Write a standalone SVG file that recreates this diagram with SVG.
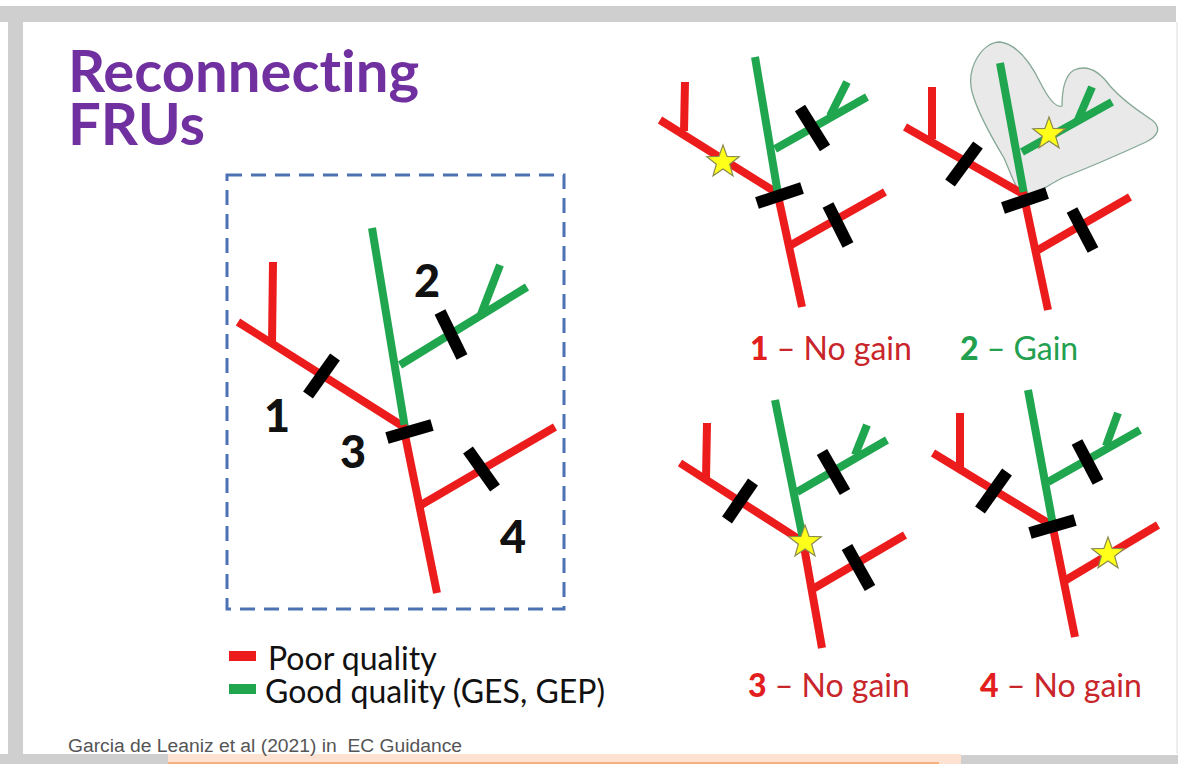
<svg xmlns="http://www.w3.org/2000/svg" width="1178" height="764" viewBox="0 0 1178 764">
<defs>
<style>
.r{stroke:#ec1c1c;stroke-width:8;fill:none;stroke-linecap:butt}
.g{stroke:#1fa64e;stroke-width:8;fill:none;stroke-linecap:butt}
.b{stroke:#000;stroke-width:12;fill:none}
.num{font-family:Lato,"Open Sans",sans-serif;font-weight:900;font-size:45px;fill:#111}
.cap{font-family:Lato,"Open Sans",sans-serif;font-size:32px}
.leg{font-family:Lato,"Open Sans",sans-serif;font-size:32px;fill:#111}
text{font-variant-ligatures:none}
</style>
<path id="star" d="M0,-17 L4.11,-5.66 L16.17,-5.25 L6.66,2.16 L9.99,13.75 L0,7 L-9.99,13.75 L-6.66,2.16 L-16.17,-5.25 L-4.11,-5.66 Z" fill="#ffff1a" stroke="#8a8a50" stroke-width="1.2"/>
</defs>
<rect width="1178" height="764" fill="#fff"/>
<g id="frame">
<rect x="0" y="6" width="1176" height="16" fill="#cfcfcf"/>
<rect x="8" y="6" width="15" height="748" fill="#cfcfcf"/>
<rect x="0" y="754" width="168" height="10" fill="#cfcfcf"/>
<rect x="168" y="754" width="793" height="10" fill="#fde2d2"/>
<rect x="168" y="762" width="771" height="2" fill="#f7b07d"/>
<rect x="961" y="755" width="217" height="9" fill="#cfcfcf"/>
<rect x="1176" y="22" width="2" height="732" fill="#eeeeee"/>
</g>
<g id="title" font-family="Lato,'Open Sans',sans-serif" font-weight="bold" font-size="58" fill="#7030a0">
<text x="68" y="92">Reconnecting</text>
<text x="68" y="145">FRUs</text>
</g>
<g id="main-tree">
<rect x="227" y="175" width="337" height="434" fill="none" stroke="#4d72b3" stroke-width="3" stroke-dasharray="15 9"/>
<line class="r" x1="238" y1="322" x2="404" y2="427"/>
<line class="r" x1="273" y1="262" x2="272" y2="344"/>
<line class="g" x1="372" y1="228" x2="405" y2="428"/>
<line class="g" x1="400" y1="365" x2="527" y2="287"/>
<line class="g" x1="500" y1="265" x2="480" y2="317"/>
<line class="r" x1="403" y1="425" x2="437" y2="593"/>
<line class="r" x1="421" y1="505" x2="555" y2="427"/>
<line class="b" x1="335" y1="357" x2="308" y2="395"/>
<line class="b" x1="440" y1="312" x2="462" y2="357"/>
<line class="b" x1="387" y1="438" x2="432" y2="425"/>
<line class="b" x1="468" y1="450" x2="495" y2="488"/>
<text class="num" x="264" y="432">1</text>
<text class="num" x="414" y="297">2</text>
<text class="num" x="340" y="468">3</text>
<text class="num" x="500" y="553">4</text>
</g>
<g id="legend">
<rect x="229" y="651" width="27" height="10" fill="#ec1c1c"/>
<text class="leg" x="268" y="670">Poor quality</text>
<rect x="229" y="684" width="27" height="10" fill="#1fa64e"/>
<text class="leg" x="265" y="703">Good quality (GES, GEP)</text>
</g>
<text id="citation" x="68" y="752" font-family="'Liberation Sans',Arial,sans-serif" font-size="18" fill="#555" xml:space="preserve" textLength="394" lengthAdjust="spacingAndGlyphs">Garcia de Leaniz et al (2021) in  EC Guidance</text>
<g id="scenario-1">
<line class="r" x1="660" y1="120" x2="777" y2="193"/>
<line class="r" x1="685" y1="82" x2="684" y2="131"/>
<line class="g" x1="755" y1="57" x2="778" y2="194"/>
<line class="g" x1="775" y1="149" x2="867" y2="97"/>
<line class="g" x1="847" y1="82" x2="830" y2="116"/>
<line class="r" x1="777" y1="191" x2="802" y2="307"/>
<line class="r" x1="791" y1="245" x2="885" y2="192"/>
<use href="#star" x="723" y="162"/>
<line class="b" x1="800" y1="108" x2="825" y2="148"/>
<line class="b" x1="757" y1="203" x2="802" y2="188"/>
<line class="b" x1="828" y1="205" x2="848" y2="245"/>
<text class="cap" x="750" y="360" fill="#c8262b"><tspan font-weight="900" fill="#e21e1e">1</tspan> – No gain</text>
</g>
<g id="scenario-2">
<path d="M1000,42 C1016,44 1030,62 1040,82 C1048,98 1056,108 1062,106 C1062,92 1064,76 1074,70 C1088,64 1100,72 1110,86 C1124,102 1140,112 1152,120 C1162,128 1158,136 1146,142 C1120,154 1090,167 1062,178 C1048,185 1038,194 1026,196 C1016,192 1012,176 1004,158 C992,138 978,114 972,92 C966,68 982,42 1000,42 Z" fill="#e9e9e9" stroke="#86a896" stroke-width="1.3"/>
<line class="r" x1="905" y1="127" x2="1023" y2="194"/>
<line class="r" x1="932" y1="87" x2="932" y2="139"/>
<line class="g" x1="1000" y1="63" x2="1024" y2="194"/>
<line class="g" x1="1022" y1="152" x2="1112" y2="102"/>
<line class="g" x1="1092" y1="87" x2="1077" y2="122"/>
<line class="r" x1="1023" y1="192" x2="1048" y2="310"/>
<line class="r" x1="1038" y1="250" x2="1130" y2="197"/>
<use href="#star" x="1049" y="134"/>
<line class="b" x1="978" y1="145" x2="950" y2="183"/>
<line class="b" x1="1003" y1="208" x2="1047" y2="193"/>
<line class="b" x1="1072" y1="210" x2="1093" y2="250"/>
<text class="cap" x="960" y="360" fill="#22a050"><tspan font-weight="900">2</tspan> – Gain</text>
</g>
<g id="scenario-3">
<line class="r" x1="680" y1="463" x2="805" y2="543"/>
<line class="r" x1="707" y1="423" x2="706" y2="479"/>
<line class="g" x1="775" y1="400" x2="804" y2="544"/>
<line class="g" x1="797" y1="492" x2="887" y2="440"/>
<line class="g" x1="867" y1="425" x2="855" y2="455"/>
<line class="r" x1="803" y1="541" x2="822" y2="648"/>
<line class="r" x1="811" y1="590" x2="905" y2="535"/>
<line class="b" x1="753" y1="482" x2="727" y2="520"/>
<line class="b" x1="822" y1="452" x2="845" y2="492"/>
<line class="b" x1="847" y1="547" x2="870" y2="588"/>
<use href="#star" x="805" y="542"/>
<text class="cap" x="748" y="697" fill="#c8262b"><tspan font-weight="900" fill="#e21e1e">3</tspan> – No gain</text>
</g>
<g id="scenario-4">
<line class="r" x1="933" y1="453" x2="1053" y2="526"/>
<line class="r" x1="960" y1="413" x2="960" y2="470"/>
<line class="g" x1="1028" y1="390" x2="1053" y2="525"/>
<line class="g" x1="1048" y1="482" x2="1140" y2="430"/>
<line class="g" x1="1118" y1="413" x2="1106" y2="446"/>
<line class="r" x1="1052" y1="523" x2="1075" y2="637"/>
<line class="r" x1="1066" y1="580" x2="1158" y2="525"/>
<use href="#star" x="1108" y="554"/>
<line class="b" x1="1007" y1="472" x2="980" y2="510"/>
<line class="b" x1="1077" y1="442" x2="1098" y2="482"/>
<line class="b" x1="1030" y1="533" x2="1075" y2="520"/>
<text class="cap" x="980" y="697" fill="#c8262b"><tspan font-weight="900" fill="#e21e1e">4</tspan> – No gain</text>
</g>
</svg>
